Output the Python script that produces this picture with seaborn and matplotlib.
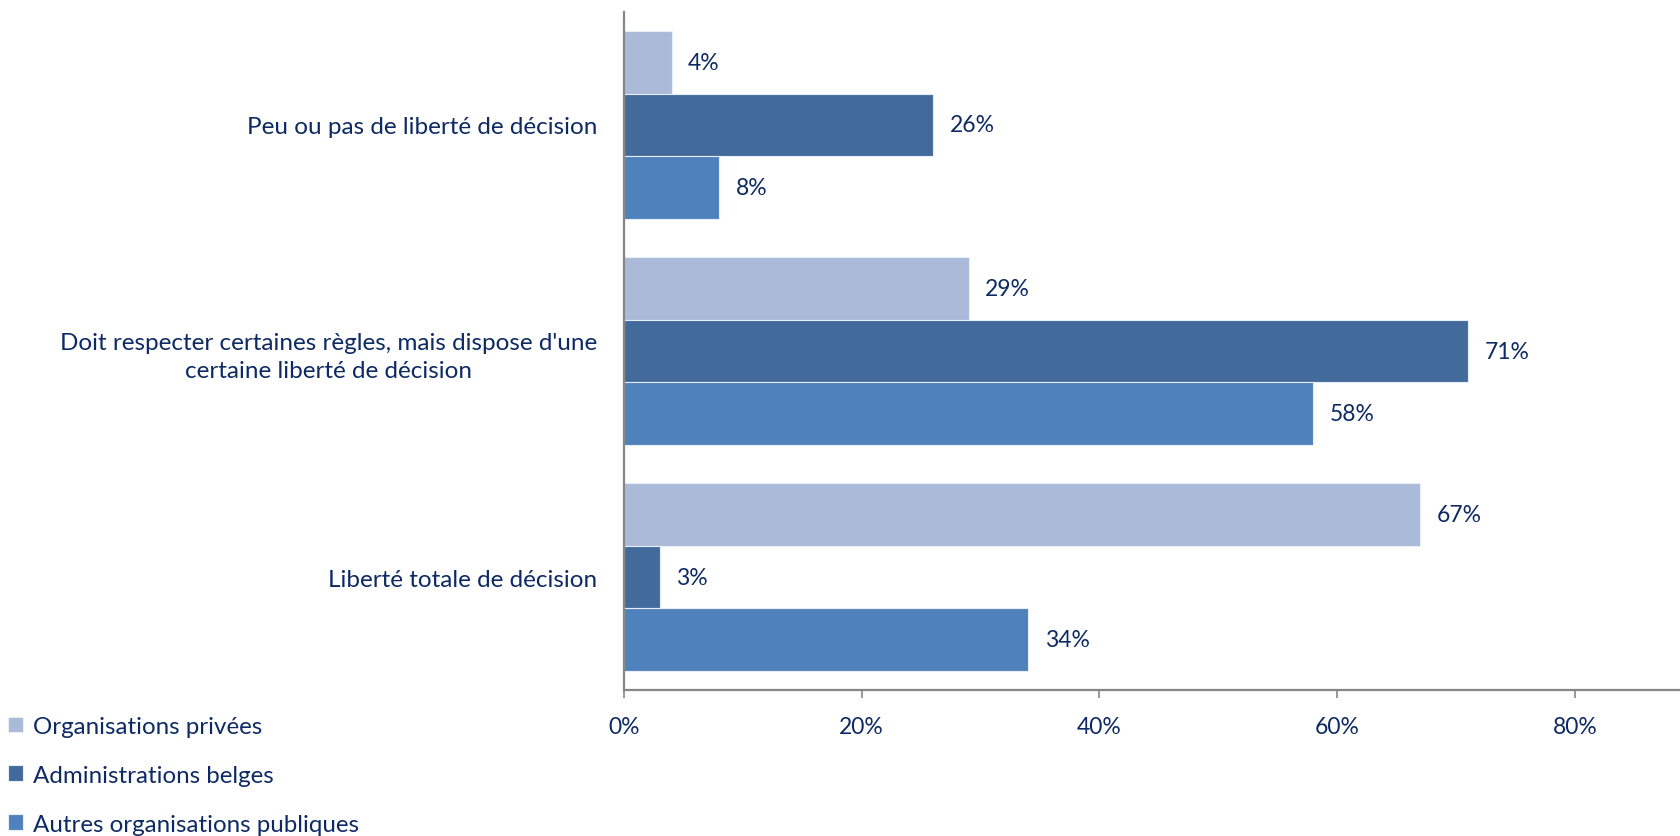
import matplotlib
matplotlib.use("Agg")
import matplotlib.pyplot as plt
import seaborn as sns
import pandas as pd
from matplotlib.ticker import FuncFormatter

# Survey answers: degree of decision freedom, by type of organisation
categories = [
    "Peu ou pas de liberté de décision",
    "Doit respecter certaines règles, mais dispose d'une\ncertaine liberté de décision",
    "Liberté totale de décision",
]
series = ["Organisations privées", "Administrations belges", "Autres organisations publiques"]
privees = [4, 29, 67]
belges = [26, 71, 3]
autres = [8, 58, 34]
x_ticks = [0, 20, 40, 60, 80]

colors = ["#ABBAD8", "#426B9B", "#4F81BD"]
text_color = "#0E2A64"
axis_color = "#868686"

rows = []
for name, vals in zip(series, [privees, belges, autres]):
    for cat, v in zip(categories, vals):
        rows.append({"categorie": cat, "organisation": name, "part": v})
df = pd.DataFrame(rows)

sns.set_theme(style="white")
plt.rcParams["font.family"] = ["Lato", "DejaVu Sans"]

fig = plt.figure(figsize=(16.81, 8.37), dpi=100)
ax = fig.add_axes([0.3712, 0.1744, 0.6288, 0.8101])

sns.barplot(
    data=df, y="categorie", x="part", hue="organisation",
    order=categories, hue_order=series, palette=colors,
    orient="h", width=0.83, saturation=1, errorbar=None,
    edgecolor="#E8EEF7", linewidth=0.8, ax=ax, legend=True,
)

for cont in ax.containers:
    ax.bar_label(cont, labels=[f"{v:.0f}%" for v in cont.datavalues],
                 padding=12, fontsize=16.5, color=text_color)

ax.set_xlim(0, 88.93)
ax.set_xticks(x_ticks)
ax.xaxis.set_major_formatter(FuncFormatter(lambda v, p: f"{v:.0f}%"))
ax.set_xlabel("")
ax.set_ylabel("")

for side in ["top", "right"]:
    ax.spines[side].set_visible(False)
for side in ["left", "bottom"]:
    ax.spines[side].set_color(axis_color)
    ax.spines[side].set_linewidth(1.6)

ax.tick_params(axis="x", bottom=True, length=6, width=1.2, color=axis_color,
               labelsize=16.5, labelcolor=text_color, pad=13)
ax.tick_params(axis="y", left=False, length=0, labelsize=17.5,
               labelcolor=text_color, pad=19)
for lab in ax.get_yticklabels():
    lab.set_multialignment("center")
    lab.set_linespacing(1.42)

handles, labels = ax.get_legend_handles_labels()
ax.get_legend().remove()
fig.legend(handles, labels, loc="upper left", bbox_to_anchor=(-0.001, 0.155),
           frameon=False, fontsize=17.4, labelcolor=text_color,
           handlelength=0.62, handleheight=0.62, handletextpad=0.4,
           labelspacing=1.15, borderaxespad=0)

fig.savefig("out.png", dpi=100, facecolor="white")
